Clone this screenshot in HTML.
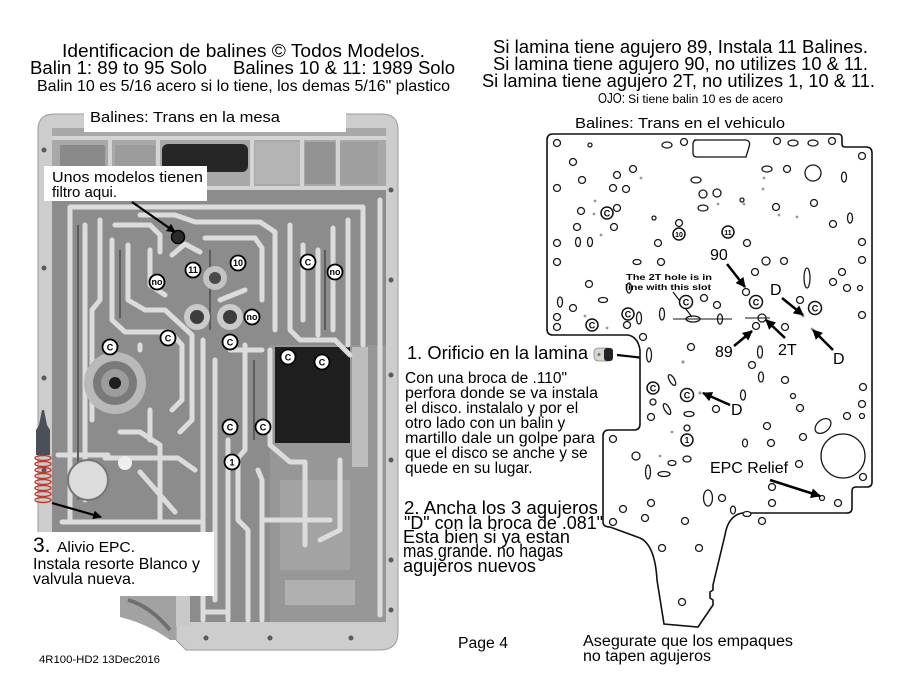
<!DOCTYPE html>
<html><head><meta charset="utf-8"><style>
html,body{margin:0;padding:0;background:#fff;}
body{width:905px;height:700px;overflow:hidden;position:relative;}
svg{position:absolute;left:0;top:0;}
text{font-family:"Liberation Sans",Arial,sans-serif;fill:#000;}
</style></head><body>
<svg width="905" height="700" viewBox="0 0 905 700" xmlns="http://www.w3.org/2000/svg">
<defs>
<marker id="ah" viewBox="0 0 10 10" refX="9" refY="5" markerWidth="4" markerHeight="4" orient="auto"><path d="M0,0 L10,5 L0,10 z" fill="#000"/></marker>
</defs>
<rect width="905" height="700" fill="#fff"/>

<!-- ================= PHOTO ================= -->
<g>
<path d="M38,130 Q38,114 54,114 L382,114 Q398,114 398,130 L398,632 Q398,650 380,650 L186,650 L176,640 L176,596 L38,596 Z" fill="#cdcdcd" stroke="#9a9a9a" stroke-width="1"/>
<rect x="52" y="128" width="334" height="494" rx="4" fill="#8c8c8c"/>
<!-- top chambers band -->
<rect x="52" y="128" width="334" height="62" fill="#a8a8a8"/>
<rect x="60" y="145" width="45" height="35" fill="#8a8a8a"/>
<rect x="162" y="144" width="86" height="28" rx="6" fill="#262626"/>
<rect x="115" y="145" width="40" height="38" fill="#9c9c9c"/>
<rect x="255" y="142" width="45" height="42" fill="#b4b4b4"/>
<rect x="305" y="142" width="30" height="42" fill="#939393"/>
<rect x="340" y="142" width="38" height="42" fill="#9f9f9f"/>
<g stroke="#d4d4d4" stroke-width="4" fill="none">
<line x1="52" y1="138" x2="386" y2="138"/>
<line x1="110" y1="138" x2="110" y2="190"/>
<line x1="158" y1="138" x2="158" y2="190"/>
<line x1="252" y1="138" x2="252" y2="190"/>
<line x1="302" y1="138" x2="302" y2="190"/>
<line x1="338" y1="138" x2="338" y2="190"/>
<line x1="52" y1="188" x2="386" y2="188"/>
</g>
<!-- right lower darker region -->
<rect x="270" y="345" width="116" height="277" fill="#979797"/>
<rect x="275" y="347" width="75" height="96" fill="#1e1e1e"/>
<rect x="352" y="347" width="16" height="120" fill="#bdbdbd"/>
<rect x="280" y="480" width="70" height="90" fill="#a3a3a3"/>
<rect x="285" y="580" width="70" height="25" fill="#b0b0b0"/>
<!-- light ribs -->
<g fill="none" stroke="#dcdcdc" stroke-width="5" stroke-linejoin="round" stroke-linecap="round">
<path d="M70,520 L70,207 L363,207 L363,345"/>
<path d="M85,225 L85,500"/>
<path d="M100,220 L100,300 L92,310 L92,420"/>
<path d="M115,225 L150,225 L160,235 L160,252"/>
<path d="M112,240 L112,320 L125,332 L170,332 L182,345 L182,400 L172,410"/>
<path d="M128,245 L128,300 L145,310 L165,310 L192,335 L192,420 L180,432"/>
<path d="M140,215 L175,215 L195,222 L260,222 L275,232 L275,330"/>
<path d="M205,238 L255,238 L262,248 L262,300"/>
<path d="M150,250 L150,285 L165,295"/>
<path d="M172,255 L185,244 L200,252"/>
<path d="M203,340 L203,620"/>
<path d="M215,360 L215,600"/>
<path d="M228,440 L228,620"/>
<path d="M245,345 L245,450 L238,458 L238,520 L248,530 L248,620"/>
<path d="M258,470 L262,480 L262,620"/>
<path d="M270,350 L270,445 L290,462 L305,462 L305,545"/>
<path d="M290,225 L290,330 L300,340 L335,340 L350,355"/>
<path d="M303,245 L303,320"/>
<path d="M318,250 L318,335"/>
<path d="M333,228 L333,330"/>
<path d="M348,220 L348,345"/>
<path d="M120,432 L140,432 L160,445 L160,520"/>
<path d="M105,458 L178,458 L195,470"/>
<path d="M140,472 L175,512"/>
<path d="M58,455 L108,455"/>
<path d="M62,522 L200,522"/>
<path d="M203,612 L228,612"/>
<path d="M140,345 L140,350"/>
<path d="M150,410 L150,440"/>
<path d="M230,350 L262,350"/>
<path d="M220,300 L245,290"/>
<path d="M262,520 L330,520"/>
<path d="M340,460 L340,530 L320,540"/>
<path d="M380,200 L380,615"/>
</g>
<g fill="none" stroke="#5c5c5c" stroke-width="2">
<path d="M78,225 L78,500"/>
<path d="M120,250 L120,318"/>
<path d="M210,250 L210,330"/>
<path d="M325,250 L325,330"/>
<path d="M254,360 L254,440"/>
</g>
<!-- round boss -->
<circle cx="115" cy="383" r="31" fill="#b9b9b9"/>
<circle cx="115" cy="383" r="22" fill="#7a7a7a"/>
<circle cx="115" cy="383" r="14" fill="#9c9c9c"/>
<circle cx="115" cy="383" r="6" fill="#1e1e1e"/>
<!-- plug -->
<circle cx="88" cy="480" r="20" fill="#dcdcdc" stroke="#767676" stroke-width="2"/>
<circle cx="125" cy="463" r="7" fill="#eee"/>
<!-- holes -->
<circle cx="197" cy="317" r="13" fill="#cacaca"/><circle cx="197" cy="317" r="7" fill="#3c3c3c"/>
<circle cx="230" cy="317" r="13" fill="#cacaca"/><circle cx="230" cy="317" r="7" fill="#3c3c3c"/>
<circle cx="215" cy="278" r="12" fill="#c3c3c3"/><circle cx="215" cy="278" r="6" fill="#4a4a4a"/>
<circle cx="178" cy="237" r="6.5" fill="#2a2a2a" stroke="#000" stroke-width="1.5"/>
<!-- bottom left: white + casting piece -->
<rect x="28" y="596" width="148" height="60" fill="#fff"/>
<rect x="176" y="596" width="14" height="30" fill="#c9c9c9"/>
<path d="M120,596 L176,596 L176,640 L170,640 Q148,624 120,617 Z" fill="#a2a2a2"/>
<path d="M128,600 Q150,606 170,630" fill="none" stroke="#6f6f6f" stroke-width="4"/>
<!-- bolt holes -->
<g fill="#5a5a5a">
<circle cx="44" cy="150" r="2.5"/><circle cx="44" cy="268" r="2.5"/><circle cx="44" cy="378" r="2.5"/><circle cx="44" cy="470" r="2.5"/>
<circle cx="391" cy="190" r="2.5"/><circle cx="391" cy="280" r="2.5"/><circle cx="391" cy="375" r="2.5"/><circle cx="391" cy="460" r="2.5"/><circle cx="391" cy="560" r="2.5"/><circle cx="391" cy="610" r="2.5"/>
<circle cx="206" cy="638" r="2.5"/><circle cx="270" cy="638" r="2.5"/><circle cx="351" cy="638" r="2.5"/>
</g>
<!-- white label boxes -->
<rect x="84" y="100" width="262" height="32" fill="#fff"/>
<rect x="44" y="166" width="163" height="35" fill="#fff"/>
<rect x="30" y="532" width="184" height="64" fill="#fff"/>
</g>

<!-- spring -->
<path d="M42,410 L44,410 L47,425 L50,430 L50,455 L36,455 L36,430 L39,425 Z" fill="#4a4f58"/>
<g fill="none" stroke="#c0392b" stroke-width="1.4">
<ellipse cx="43" cy="458" rx="8" ry="2.5"/><ellipse cx="43" cy="464" rx="8" ry="2.5"/><ellipse cx="43" cy="470" rx="8" ry="2.5"/><ellipse cx="43" cy="476" rx="8" ry="2.5"/><ellipse cx="43" cy="482" rx="8" ry="2.5"/><ellipse cx="43" cy="488" rx="8" ry="2.5"/><ellipse cx="43" cy="494" rx="8" ry="2.5"/><ellipse cx="43" cy="500" rx="8" ry="2.5"/>
</g>

<!-- photo arrows -->
<line x1="132" y1="202" x2="175" y2="232" stroke="#000" stroke-width="2.2" marker-end="url(#ah)"/>
<line x1="52" y1="503" x2="101" y2="517" stroke="#000" stroke-width="2.2" marker-end="url(#ah)"/>

<!-- photo circled labels -->
<g stroke="#000" stroke-width="1.8" fill="#fff">
<circle cx="193" cy="270" r="7.5"/><circle cx="238" cy="263" r="7.5"/><circle cx="157" cy="282" r="7.5"/>
<circle cx="308" cy="262" r="7.5"/><circle cx="335" cy="272" r="7.5"/><circle cx="252" cy="317" r="7.5"/>
<circle cx="168" cy="338" r="7.5"/><circle cx="230" cy="342" r="7.5"/><circle cx="110" cy="347" r="7.5"/>
<circle cx="288" cy="357" r="7.5"/><circle cx="322" cy="362" r="7.5"/><circle cx="230" cy="427" r="7.5"/>
<circle cx="263" cy="427" r="7.5"/><circle cx="232" cy="462" r="7.5"/>
</g>
<g font-size="9" font-weight="bold" text-anchor="middle">
<text x="193" y="273">11</text><text x="238" y="266">10</text><text x="157" y="285">no</text>
<text x="308" y="265.5">C</text><text x="335" y="275">no</text><text x="252" y="320">no</text>
<text x="168" y="341.5">C</text><text x="230" y="345.5">C</text><text x="110" y="350.5">C</text>
<text x="288" y="360.5">C</text><text x="322" y="365.5">C</text><text x="230" y="430.5">C</text>
<text x="263" y="430.5">C</text><text x="232" y="465.5">1</text>
</g>

<!-- ================= TITLES ================= -->
<text x="62" y="57" font-size="18" textLength="363" lengthAdjust="spacingAndGlyphs">Identificacion de balines  ©  Todos Modelos.</text>
<text x="30" y="74" font-size="18" textLength="177" lengthAdjust="spacingAndGlyphs">Balin 1:  89 to 95 Solo</text>
<text x="233" y="74" font-size="18" textLength="222" lengthAdjust="spacingAndGlyphs">Balines 10 &amp; 11:  1989 Solo</text>
<text x="37" y="91" font-size="16" textLength="413" lengthAdjust="spacingAndGlyphs">Balin 10 es 5/16 acero si lo tiene, los demas 5/16" plastico</text>

<text x="493" y="53" font-size="18" textLength="375" lengthAdjust="spacingAndGlyphs">Si lamina tiene agujero 89,  Instala 11 Balines.</text>
<text x="493" y="70" font-size="18" textLength="375" lengthAdjust="spacingAndGlyphs">Si lamina tiene agujero 90, no utilizes 10 &amp; 11.</text>
<text x="482" y="87" font-size="18" textLength="393" lengthAdjust="spacingAndGlyphs">Si lamina tiene agujero 2T, no utilizes 1, 10 &amp; 11.</text>
<text x="598" y="103" font-size="15" textLength="27" lengthAdjust="spacingAndGlyphs">OJO:</text>
<text x="628" y="103" font-size="11.5" textLength="155" lengthAdjust="spacingAndGlyphs">Si tiene balin 10 es de acero</text>

<text x="90" y="122" font-size="15" textLength="190" lengthAdjust="spacingAndGlyphs">Balines:  Trans en la mesa</text>
<text x="575" y="128" font-size="15" textLength="210" lengthAdjust="spacingAndGlyphs">Balines:  Trans en el vehiculo</text>

<text x="52" y="182" font-size="15" textLength="151" lengthAdjust="spacingAndGlyphs">Unos modelos tienen</text>
<text x="52" y="197" font-size="15">filtro aqui.</text>

<text x="33" y="552" font-size="21">3.</text>
<text x="57" y="552" font-size="15" textLength="78" lengthAdjust="spacingAndGlyphs">Alivio EPC.</text>
<text x="33" y="569" font-size="16" textLength="167" lengthAdjust="spacingAndGlyphs">Instala resorte Blanco y</text>
<text x="33" y="584" font-size="16">valvula nueva.</text>

<text x="39" y="663" font-size="11" textLength="121" lengthAdjust="spacingAndGlyphs">4R100-HD2 13Dec2016</text>

<!-- middle text -->
<text x="407" y="359" font-size="18" textLength="181" lengthAdjust="spacingAndGlyphs">1. Orificio en la lamina</text>
<g font-size="15.5">
<text x="405" y="383">Con una broca de .110"</text>
<text x="405" y="398" textLength="193" lengthAdjust="spacingAndGlyphs">perfora donde se va instala</text>
<text x="405" y="413">el disco. instalalo y por el</text>
<text x="405" y="428">otro lado con un balin y</text>
<text x="405" y="443" textLength="190" lengthAdjust="spacingAndGlyphs">martillo dale un golpe para</text>
<text x="405" y="458">que el disco se anche y se</text>
<text x="405" y="473">quede en su lugar.</text>
</g>
<g font-size="18">
<text x="404" y="514" textLength="194" lengthAdjust="spacingAndGlyphs">2. Ancha los 3 agujeros</text>
<text x="404" y="529" textLength="199" lengthAdjust="spacingAndGlyphs">"D" con la broca de .081"</text>
<text x="403" y="543" textLength="167" lengthAdjust="spacingAndGlyphs">Esta bien si ya estan</text>
<text x="403" y="557" textLength="160" lengthAdjust="spacingAndGlyphs">mas grande. no hagas</text>
<text x="403" y="572" textLength="133" lengthAdjust="spacingAndGlyphs">agujeros nuevos</text>
</g>

<text x="458" y="648" font-size="15.5" textLength="50" lengthAdjust="spacingAndGlyphs">Page 4</text>
<text x="583" y="646" font-size="15.5" textLength="210" lengthAdjust="spacingAndGlyphs">Asegurate que los empaques</text>
<text x="583" y="661" font-size="15.5" textLength="128" lengthAdjust="spacingAndGlyphs">no tapen agujeros</text>

<!-- plug image -->
<rect x="594" y="348" width="18" height="13" rx="4" fill="#d6d6cc" stroke="#888" stroke-width="0.8"/>
<rect x="604" y="348" width="9" height="13" rx="3" fill="#222"/>
<circle cx="599" cy="354.5" r="1.5" fill="#777"/>
<line x1="617" y1="355" x2="681" y2="362" stroke="#000" stroke-width="2.2" marker-end="url(#ah)"/>

<!-- ================= PLATE ================= -->
<path d="M553,134 L838,134 Q842,134 842,138 L842,144 Q842,147 845,147 L866,147 Q872,147 872,153 L872,482 Q872,487 867,487 L856,487 Q852,487 852,491 L852,508 Q852,513 847,513 L742,513 Q728,516 725,535 L713,585 L713,590 L710,592 L710,598 L713,600 L713,605 L698,627 L664,624 L657,580 Q655,545 640,538 L610,527 Q603,527 603,522 L603,436 Q603,430 609,430 L634,430 Q640,430 640,424 L640,350 Q638,337 628,335 L553,335 Q547,335 547,329 L547,140 Q547,134 553,134 Z" fill="#fff" stroke="#111" stroke-width="1.6"/>
<path d="M694,140 L746,140 Q751,141 749,147 L746,157 L697,157 Q693,157 693,153 L693,144 Q693,140 697,140 Z" fill="none" stroke="#111" stroke-width="1.3"/>
<g fill="#fff" stroke="#1a1a1a" stroke-width="1.3">
<circle cx="557" cy="143" r="3.5"/><circle cx="590" cy="145" r="2"/><circle cx="684" cy="142" r="3.5"/><circle cx="777" cy="141" r="3.5"/><circle cx="832" cy="141" r="3.5"/><circle cx="862" cy="156" r="3.5"/>
<ellipse cx="667" cy="145" rx="5" ry="3"/><ellipse cx="793" cy="143" rx="5" ry="3"/><ellipse cx="813" cy="143" rx="5" ry="3"/><ellipse cx="767" cy="169" rx="5" ry="3"/><ellipse cx="696" cy="180" rx="5" ry="3"/><ellipse cx="703" cy="208" rx="5" ry="3"/><ellipse cx="637" cy="262" rx="4" ry="2.5"/><ellipse cx="603" cy="300" rx="4.5" ry="2.5"/>
<ellipse cx="844" cy="177" rx="2.5" ry="5"/><ellipse cx="850" cy="218" rx="2.5" ry="5"/><ellipse cx="578" cy="242" rx="2.5" ry="4.5"/><ellipse cx="590" cy="242" rx="2.5" ry="4.5"/><ellipse cx="807" cy="278" rx="3" ry="10"/><ellipse cx="629" cy="288" rx="2.5" ry="5"/><ellipse cx="560" cy="302" rx="2.5" ry="5"/><ellipse cx="639" cy="318" rx="2.5" ry="6"/><ellipse cx="662" cy="314" rx="2.5" ry="6"/><ellipse cx="720" cy="319" rx="2.5" ry="5"/><ellipse cx="649" cy="355" rx="2.5" ry="7"/><ellipse cx="760" cy="352" rx="2.5" ry="6"/><ellipse cx="761" cy="377" rx="2.5" ry="5"/><ellipse cx="743" cy="395" rx="2.5" ry="5"/><ellipse cx="648" cy="472" rx="2.5" ry="7"/><ellipse cx="745" cy="443" rx="2.5" ry="4"/><ellipse cx="708" cy="498" rx="4.5" ry="8"/><ellipse cx="733" cy="510" rx="2.5" ry="4"/>
<ellipse cx="689" cy="414" rx="5" ry="2.5"/><ellipse cx="687" cy="459" rx="4" ry="3"/><ellipse cx="664" cy="474" rx="6" ry="2.5"/><ellipse cx="747" cy="514" rx="4" ry="2.5"/><ellipse cx="672" cy="463" rx="4" ry="2.5"/><ellipse cx="693" cy="319" rx="7" ry="3"/>
<ellipse cx="672" cy="380" rx="6" ry="2.5" transform="rotate(60 672 380)"/><ellipse cx="667" cy="409" rx="6" ry="2.5" transform="rotate(60 667 409)"/><ellipse cx="823" cy="426" rx="9" ry="6" transform="rotate(-40 823 426)"/>
<circle cx="573" cy="162" r="3.5"/><circle cx="633" cy="169" r="3.5"/><circle cx="617" cy="175" r="3.5"/><circle cx="582" cy="180" r="3.5"/><circle cx="787" cy="169" r="3.5"/><circle cx="557" cy="188" r="3.5"/><circle cx="613" cy="188" r="3.5"/><circle cx="626" cy="189" r="3.5"/><circle cx="703" cy="194" r="4"/><circle cx="717" cy="193" r="4"/><circle cx="617" cy="208" r="3.5"/><circle cx="581" cy="211" r="3.5"/><circle cx="776" cy="207" r="3.5"/><circle cx="814" cy="203" r="3.5"/><circle cx="679" cy="223" r="3.5"/><circle cx="577" cy="227" r="3.5"/><circle cx="614" cy="227" r="3.5"/><circle cx="833" cy="224" r="3.5"/><circle cx="557" cy="243" r="3.5"/><circle cx="658" cy="243" r="3.5"/><circle cx="747" cy="243" r="3.5"/><circle cx="862" cy="242" r="3.5"/><circle cx="557" cy="262" r="3.5"/><circle cx="661" cy="262" r="3.5"/><circle cx="766" cy="261" r="4"/><circle cx="784" cy="261" r="3.5"/><circle cx="862" cy="260" r="3.5"/><circle cx="755" cy="272" r="3.5"/><circle cx="842" cy="272" r="3.5"/><circle cx="833" cy="282" r="3.5"/><circle cx="847" cy="288" r="3.5"/><circle cx="860" cy="288" r="2.5"/><circle cx="589" cy="284" r="3.5"/><circle cx="704" cy="298" r="3.5"/><circle cx="717" cy="305" r="3.5"/><circle cx="746" cy="292" r="3.5"/><circle cx="800" cy="300" r="3.5"/><circle cx="862" cy="315" r="3.5"/><circle cx="573" cy="308" r="3.5"/><circle cx="557" cy="317" r="3.5"/><circle cx="557" cy="327" r="3.5"/><circle cx="762" cy="318" r="4"/><circle cx="756" cy="326" r="3.5"/><circle cx="785" cy="327" r="3.5"/><circle cx="627" cy="325" r="3.5"/><circle cx="643" cy="337" r="3.5"/><circle cx="691" cy="347" r="3.5"/><circle cx="752" cy="365" r="3.5"/><circle cx="785" cy="380" r="3.5"/><circle cx="863" cy="387" r="3.5"/><circle cx="653" cy="402" r="3"/><circle cx="716" cy="409" r="3.5"/><circle cx="793" cy="396" r="2.5"/><circle cx="800" cy="408" r="3.5"/><circle cx="862" cy="404" r="3.5"/><circle cx="862" cy="416" r="2.5"/><circle cx="847" cy="416" r="3.5"/><circle cx="651" cy="417" r="3.5"/><circle cx="687" cy="428" r="3"/><circle cx="767" cy="426" r="3.5"/><circle cx="613" cy="439" r="3.5"/><circle cx="771" cy="443" r="3.5"/><circle cx="803" cy="437" r="3.5"/><circle cx="636" cy="456" r="4"/><circle cx="799" cy="464" r="3.5"/><circle cx="863" cy="477" r="3.5"/><circle cx="772" cy="487" r="3.5"/><circle cx="822" cy="498" r="2.5"/><circle cx="838" cy="503" r="3.5"/><circle cx="772" cy="503" r="3.5"/><circle cx="722" cy="498" r="3.5"/><circle cx="651" cy="503" r="3.5"/><circle cx="623" cy="509" r="3.5"/><circle cx="645" cy="518" r="3.5"/><circle cx="613" cy="522" r="3.5"/><circle cx="685" cy="521" r="3.5"/><circle cx="762" cy="521" r="3.5"/><circle cx="662" cy="548" r="3.5"/><circle cx="699" cy="548" r="3.5"/><circle cx="682" cy="602" r="3.5"/>
<circle cx="654" cy="218" r="2"/><circle cx="742" cy="200" r="2"/>
<circle cx="843" cy="456" r="22"/><circle cx="813" cy="173" r="8"/>
</g>
<g fill="#999">
<circle cx="683" cy="362" r="1.6"/><circle cx="700" cy="393" r="1.6"/><circle cx="760" cy="298" r="1.4"/><circle cx="803" cy="316" r="1.4"/><circle cx="812" cy="329" r="1.4"/><circle cx="672" cy="432" r="1.4"/><circle cx="660" cy="456" r="1.4"/><circle cx="595" cy="201" r="1.4"/><circle cx="641" cy="178" r="1.4"/><circle cx="594" cy="214" r="1.4"/><circle cx="601" cy="235" r="1.4"/><circle cx="585" cy="316" r="1.4"/><circle cx="607" cy="328" r="1.4"/><circle cx="744" cy="204" r="1.4"/><circle cx="779" cy="215" r="1.4"/><circle cx="797" cy="217" r="1.4"/><circle cx="764" cy="178" r="1.4"/><circle cx="763" cy="189" r="1.4"/><circle cx="718" cy="204" r="1.4"/>
</g>
<!-- slot lines -->
<line x1="673" y1="319" x2="732" y2="319" stroke="#111" stroke-width="1"/>
<line x1="745" y1="318" x2="770" y2="318" stroke="#111" stroke-width="1"/>
<line x1="673" y1="292" x2="692" y2="317" stroke="#111" stroke-width="1.2"/>
<!-- plate circled labels -->
<g fill="#fff" stroke="#111" stroke-width="1.5">
<circle cx="607" cy="213" r="6"/><circle cx="686" cy="302" r="6.5"/><circle cx="628" cy="314" r="6"/><circle cx="592" cy="325" r="6"/><circle cx="756" cy="302" r="6.5"/><circle cx="815" cy="308" r="6.5"/><circle cx="653" cy="388" r="6"/><circle cx="687" cy="395" r="6.5"/>
<circle cx="679" cy="234" r="6"/><circle cx="728" cy="232" r="6"/><circle cx="687" cy="440" r="6"/>
</g>
<g font-size="9" font-weight="bold" text-anchor="middle">
<text x="607" y="216.5">C</text><text x="686" y="305.5">C</text><text x="628" y="317.5">C</text><text x="592" y="328.5">C</text><text x="756" y="305.5">C</text><text x="815" y="311.5">C</text><text x="653" y="391.5">C</text><text x="687" y="398.5">C</text>
<text x="679" y="237" font-size="7">10</text><text x="728" y="235" font-size="7">11</text><text x="687" y="443" font-size="8">1</text>
</g>
<!-- plate labels and arrows -->
<text x="626" y="280" font-size="8.5" font-weight="bold" textLength="86" lengthAdjust="spacingAndGlyphs">The 2T hole is in</text>
<text x="625" y="290" font-size="8.5" font-weight="bold" textLength="86" lengthAdjust="spacingAndGlyphs">line with this slot</text>
<g font-size="16">
<text x="710" y="260">90</text>
<text x="770" y="295">D</text>
<text x="715" y="357">89</text>
<text x="778" y="355">2T</text>
<text x="833" y="364">D</text>
<text x="731" y="415">D</text>
<text x="710" y="473" textLength="78" lengthAdjust="spacingAndGlyphs">EPC Relief</text>
</g>
<g stroke="#000" stroke-width="2.5" marker-end="url(#ah)">
<line x1="727" y1="264" x2="745" y2="287"/>
<line x1="782" y1="298" x2="803" y2="315"/>
<line x1="734" y1="346" x2="752" y2="331"/>
<line x1="785" y1="338" x2="766" y2="320"/>
<line x1="833" y1="350" x2="813" y2="330"/>
<line x1="730" y1="405" x2="703" y2="393"/>
<line x1="770" y1="480" x2="820" y2="496"/>
</g>
</svg>
</body></html>
